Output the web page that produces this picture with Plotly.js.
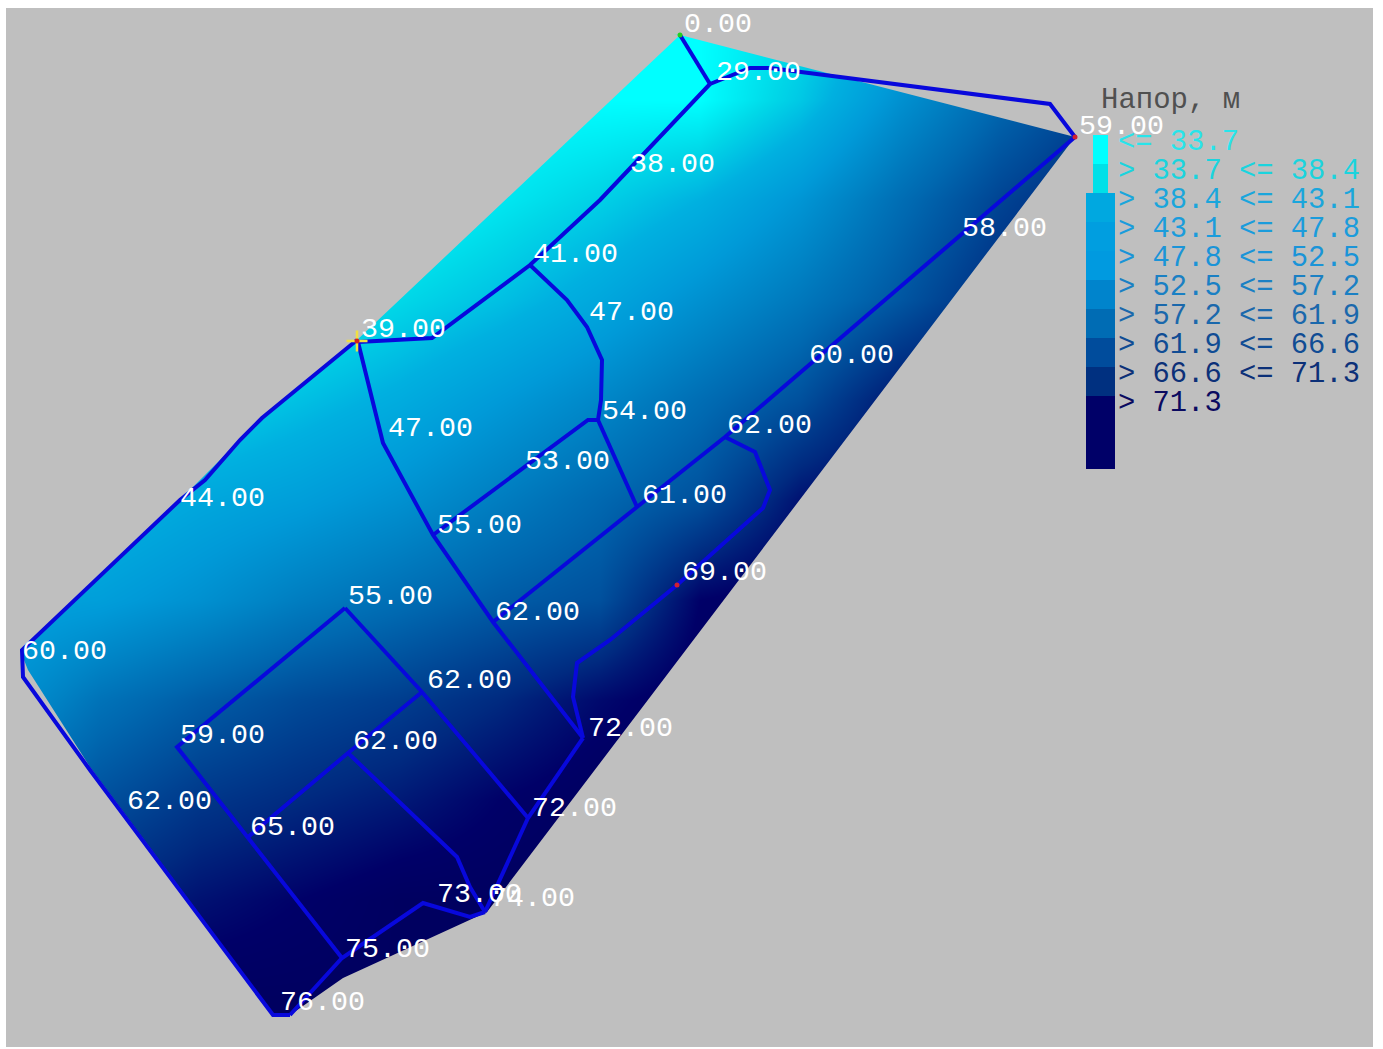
<!DOCTYPE html>
<html><head><meta charset="utf-8">
<script src="https://cdn.plot.ly/plotly-3.0.1.min.js"></script>
<style>html,body{margin:0;padding:0;background:#fff}</style></head>
<body><div id="chart" style="width:1383px;height:1049px"></div>
<script>
// Colour field (head, m) on a coarse grid
const gridX = [0,100,200,300,400,500,600,700,800,900,1000,1100];
const gridY = [0,100,200,300,400,500,600,700,800,900,1000,1100];
const gridZ = [
 [33,33,33,33,33,33,33,33,37,44,52,60],
 [33,33,33,33,33,33,33,33,40,50,58,64],
 [33,33,33,33,33,36,39,43,49,57,64,69],
 [33,33,33,35,38,41,45,50,55,61,68,72],
 [33,33,38,41,44,48,52,57,62,71,74,75],
 [40,42,45,47,50,54,58,62,71,74,75,75],
 [46,47,50,54,57,60,62,73,75,75,75,75],
 [49,56,60,63,65,68,72,75,75,75,75,75],
 [56,62,66,68,70,73,75,75,75,75,75,75],
 [64,68,71,73,75,75,75,75,75,75,75,75],
 [70,73,75,75,75,75,75,75,75,75,75,75],
 [72,75,75,75,75,75,75,75,75,75,75,75]
];
const zStops = [[0,'#00ffff'],[0.119,'#00d8e8'],[0.238,'#00b0e0'],[0.357,'#009ad8'],[0.476,'#0082c4'],[0.595,'#0068b0'],[0.714,'#004a98'],[0.833,'#002a80'],[0.952,'#000068'],[1,'#000060']];

// Outline of the coloured area
const outlineX = [680,1075,487,343,290,274,90,28,20,180,262,357,680];
const outlineY = [35,137,912,978,1015,1015,767,670,650,500,418,340,35];

// Network pipes
const pipeX = [680,710,null,710,750,770,1050,1075,null,1075,800,725,637,493,null,
 725,755,770,763,677,610,577,573,583,null,710,600,530,432,358,null,
 530,567,587,602,601,598,null,598,588,433,null,598,637,null,
 358,383,433,493,583,null,583,528,485,null,345,422,528,null,
 345,177,342,null,422,348,248,null,348,457,470,485,null,
 485,470,423,342,290,null,357,262,240,205,180,22,23,90,273,290];
const pipeY = [35,84,null,84,68,68,104,137,null,137,372,437,507,622,null,
 437,452,490,508,585,640,663,697,738,null,84,200,265,338,342,null,
 265,300,327,360,400,420,null,420,420,535,null,420,507,null,
 342,443,535,622,738,null,738,818,912,null,608,692,818,null,
 608,747,958,null,692,753,837,null,753,857,887,912,null,
 912,917,903,958,1015,null,340,418,440,480,500,650,677,770,1015,1015];

// Node labels
const nodeLabels = ['0.00','29.00','38.00','41.00','47.00','39.00','47.00','54.00','53.00','62.00','61.00','55.00','44.00','60.00','58.00','59.00','69.00','62.00','55.00','60.00','62.00','59.00','62.00','62.00','65.00','72.00','72.00','73.00','74.00','75.00','76.00'];
const nodeX = [684,716,630,533,589,361,388,602,525,727,642,437,180,809,962,1079,682,495,348,22,427,180,353,127,250,588,532,437,490,345,280];
const nodeY = [25,73,165,255,313,330,429,412,462,426,496,526,499,356,229,127,573,613,597,652,681,736,742,802,828,729,809,895,899,950,1003];

// Legend
const legendTitle = 'Напор, м';
const legendLabels = ['<= 33.7','> 33.7 <= 38.4','> 38.4 <= 43.1','> 43.1 <= 47.8','> 47.8 <= 52.5','> 52.5 <= 57.2','> 57.2 <= 61.9','> 61.9 <= 66.6','> 66.6 <= 71.3','> 71.3'];
const legendTextColors = ['#28e4ea','#1ad4de','#1aa6dc','#1a9cdc','#1a94d8','#1a80c4','#1a68ac','#104c94','#0c3078','#0a0a60'];
const legendColors = ['#00ffff','#00e0e8','#00a8e0','#009ee0','#009ae0','#0084cc','#006cb4','#004c9c','#003080','#000068'];
const legendBase = [135,164,193,222,251,280,309,338,367,396];
const legendHeight = [29,29,29,29,29,29,29,29,29,73];
const legendCenter = [1100.5,1100.5,1100.5,1100.5,1100.5,1100.5,1100.5,1100.5,1100.5,1100.5];
const legendWidth = [15,15,29,29,29,29,29,29,29,29];
const legendTextX = [1118,1118,1118,1118,1118,1118,1118,1118,1118,1118];
const legendTextY = [143,172,201,230,259,288,317,346,375,404];

const FONT = '"Liberation Mono", monospace';
const BG = '#bfbfbf', PIPE = '#0808dc';
const L = 6, R = 1373, T = 8, B = 1047;

// Grey area outside the outline: outer frame, then the outline as a hole
const maskX = [-100,1500,1500,-100,-100].concat(outlineX.slice().reverse()).concat([-100]);
const maskY = [-100,-100,1200,1200,-100].concat(outlineY.slice().reverse()).concat([-100]);

const traces = [
 {type:'heatmap',x:gridX,y:gridY,z:gridZ,zmin:33,zmax:75,zsmooth:'best',colorscale:zStops,showscale:false,hoverinfo:'skip'},
 {type:'scatter',mode:'none',x:maskX,y:maskY,fill:'toself',fillcolor:BG,hoverinfo:'skip'},
 {type:'bar',xaxis:'x2',yaxis:'y2',x:legendCenter,y:legendHeight,base:legendBase,width:legendWidth,marker:{color:legendColors,line:{width:0}},hoverinfo:'skip'},
 {type:'scatter',xaxis:'x2',yaxis:'y2',mode:'lines',x:pipeX,y:pipeY,line:{color:PIPE,width:4},hoverinfo:'skip'},
 {type:'scatter',xaxis:'x2',yaxis:'y2',mode:'markers',x:[357],y:[341],marker:{symbol:'cross-thin',size:15,line:{color:'#f0e040',width:2.5}},hoverinfo:'skip'},
 {type:'scatter',xaxis:'x2',yaxis:'y2',mode:'markers',x:[680,1075,357,677],y:[35,137,341,585],marker:{size:5,color:['#20d020','#d02030','#d02020','#d02030']},hoverinfo:'skip'},
 {type:'scatter',xaxis:'x2',yaxis:'y2',mode:'text',x:nodeX,y:nodeY,text:nodeLabels,textposition:'middle right',textfont:{family:FONT,size:28.3,color:'#ffffff'},hoverinfo:'skip'},
 {type:'scatter',xaxis:'x2',yaxis:'y2',mode:'text',x:[1101],y:[101],text:[legendTitle],textposition:'middle right',textfont:{family:FONT,size:29,color:'#505050'},hoverinfo:'skip'},
 {type:'scatter',xaxis:'x2',yaxis:'y2',mode:'text',x:legendTextX,y:legendTextY,text:legendLabels,textposition:'middle right',textfont:{family:FONT,size:28.8,color:legendTextColors},hoverinfo:'skip'}
];
const ax = (r,extra)=>Object.assign({range:r,visible:false,fixedrange:true,showgrid:false,zeroline:false},extra||{});
const layout = {
 width:1383,height:1049,showlegend:false,
 margin:{l:L,r:1383-R,t:T,b:1049-B,pad:0},
 paper_bgcolor:'#ffffff',plot_bgcolor:BG,
 xaxis:ax([L,R]),yaxis:ax([B,T]),
 xaxis2:ax([L,R],{overlaying:'x'}),yaxis2:ax([B,T],{overlaying:'y'}),
 barmode:'overlay'
};
Plotly.newPlot('chart',traces,layout,{displayModeBar:false,staticPlot:true});
</script></body></html>
